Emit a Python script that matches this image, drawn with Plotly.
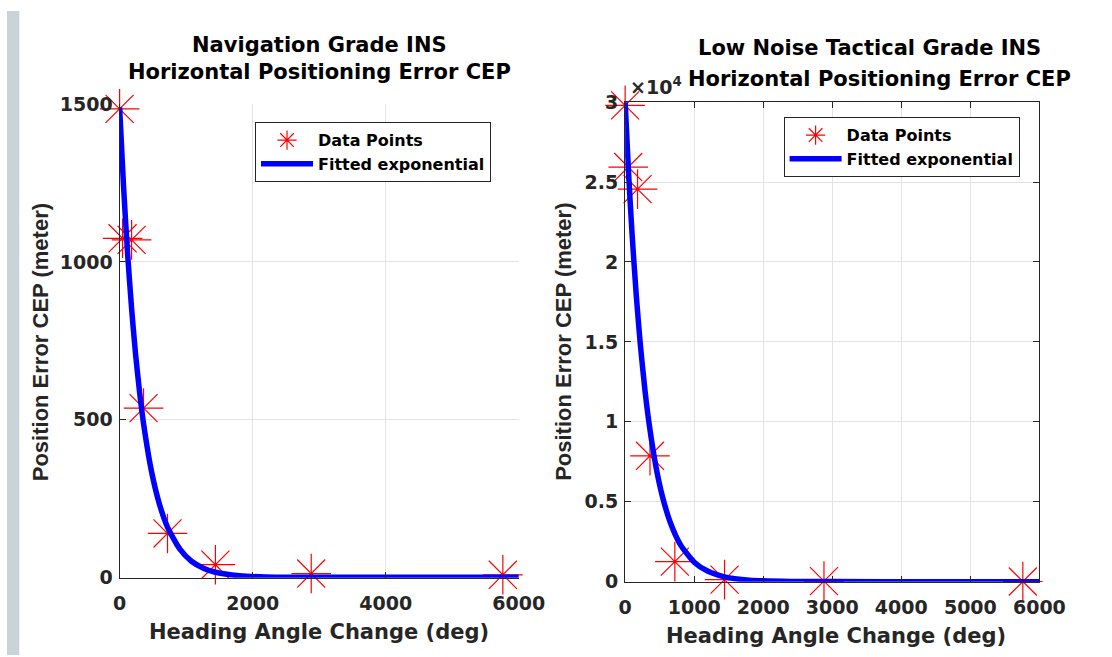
import plotly.graph_objects as go

# ---------------- data ----------------
heading_nav = [0, 45, 180, 360, 720, 1440, 2880, 5760]
cep_nav = [1485, 1075, 1070, 537, 140, 41, 13, 9]

fit_x_nav = [0, 60, 120, 180, 240, 300, 360, 480, 600, 720, 900, 1080, 1260, 1440, 1800, 2200, 3000, 4500, 6000]
fit_y_nav = [1490, 1237, 1027, 853, 708, 588, 488, 336, 232, 160, 92, 52, 30, 17, 6, 2, 1, 1, 1]

heading_tac = [0, 45, 180, 360, 720, 1440, 2880, 5760]
cep_tac = [29800, 25940, 24560, 7875, 1250, 125, 30, 10]

fit_x_tac = [0, 50, 100, 160, 220, 290, 350, 450, 540, 650, 800, 1000, 1200, 1440, 1800, 2400, 3000, 4500, 6000]
fit_y_tac = [30000, 25560, 21790, 17980, 14840, 11860, 9790, 7110, 5330, 3750, 2320, 1220, 645, 300, 95, 14, 2, 0, 0]

nav_xticks = [0, 2000, 4000, 6000]
nav_yticks = [0, 500, 1000, 1500]
tac_xticks = [0, 1000, 2000, 3000, 4000, 5000, 6000]
tac_tickvals = [0, 5000, 10000, 15000, 20000, 25000, 30000]
tac_ticktext = ["0", "0.5", "1", "1.5", "2", "2.5", "3"]

# the page is photographed with an 8px body margin and a slight down-scaling;
# positions below are given in picture pixels and converted to figure pixels
S = 0.968
OFF = 8
DY = 3
W, H = 1136, 666
FONT = "DejaVu Sans"
FONT_V = "Liberation Sans"
AX = "#262626"
GRID = "#e3e3e3"


def px(x):
    return (x / S - OFF) / W


def py(y):
    return 1 - ((y - DY) / S - OFF) / H


fig = go.Figure()

star = dict(symbol="asterisk-open", size=33, color="red", line=dict(color="red", width=1.2))

fig.add_trace(go.Scatter(x=heading_nav, y=cep_nav, mode="markers", name="Data Points",
                         marker=star, xaxis="x", yaxis="y", legend="legend",
                         cliponaxis=False))
fig.add_trace(go.Scatter(x=fit_x_nav, y=fit_y_nav, mode="lines", name="Fitted exponential",
                         line=dict(color="#0000ff", width=5.5, shape="spline", smoothing=0.6),
                         xaxis="x", yaxis="y", legend="legend"))
fig.add_trace(go.Scatter(x=heading_tac, y=cep_tac, mode="markers", name="Data Points",
                         marker=star, xaxis="x2", yaxis="y2", legend="legend2",
                         cliponaxis=False))
fig.add_trace(go.Scatter(x=fit_x_tac, y=fit_y_tac, mode="lines", name="Fitted exponential",
                         line=dict(color="#0000ff", width=5.5, shape="spline", smoothing=0.6),
                         xaxis="x2", yaxis="y2", legend="legend2"))

tickfont = dict(family=FONT, size=19, color=AX, weight="bold")

axis_common = dict(showgrid=True, gridcolor=GRID, gridwidth=1, zeroline=False,
                   showline=True, linecolor=AX, linewidth=1.2,
                   ticks="inside", ticklen=6, tickcolor=AX, tickwidth=1,
                   tickfont=tickfont)

legend_common = dict(xanchor="left", yanchor="top", bgcolor="white", bordercolor=AX,
                     borderwidth=1, font=dict(family=FONT, size=16, color="black", weight="bold"),
                     itemwidth=52, tracegroupgap=0)

fig.update_layout(
    width=W, height=H,
    margin=dict(l=0, r=0, t=0, b=0),
    paper_bgcolor="white", plot_bgcolor="white",
    font=dict(family=FONT, color=AX),
    xaxis=dict(domain=[px(120), px(518)], range=[0, 6000], tickvals=nav_xticks,
               anchor="y", mirror=False, ticklabelstandoff=8, **axis_common),
    yaxis=dict(domain=[py(578), py(104)], range=[0, 1500], tickvals=nav_yticks,
               anchor="x", mirror=False, ticklabelstandoff=2, **axis_common),
    xaxis2=dict(domain=[px(624), px(1037)], range=[0, 6000], tickvals=tac_xticks,
                anchor="y2", mirror="ticks", ticklabelstandoff=8, **axis_common),
    yaxis2=dict(domain=[py(582), py(102)], range=[0, 30000], tickvals=tac_tickvals,
                ticktext=tac_ticktext, anchor="x2", mirror="ticks", ticklabelstandoff=2,
                **axis_common),
    showlegend=True,
    legend=dict(x=px(255), y=py(122), **legend_common),
    legend2=dict(x=px(782), y=py(117), **legend_common),
)

# grey strip of the surrounding window on the left
fig.add_shape(type="rect", xref="paper", yref="paper", x0=0, x1=px(20), y0=0, y1=1,
              fillcolor="#c9d4da", line_width=0, layer="below")


def ann(text, x, y, size=21, angle=0, color="black", xanchor="center", family=FONT):
    fig.add_annotation(text=text, x=px(x), y=py(y), xref="paper", yref="paper",
                       showarrow=False, textangle=angle, xanchor=xanchor, yanchor="middle",
                       font=dict(family=family, size=size, color=color, weight="bold"))


# titles
ann("Navigation Grade INS", 319, 45)
ann("Horizontal Positioning Error CEP", 319, 72)
ann("Low Noise Tactical Grade INS", 868, 48)
ann("Horizontal Positioning Error CEP", 878, 79)
# axis titles
ann("Heading Angle Change (deg)", 319, 632, color=AX)
ann("Heading Angle Change (deg)", 834, 636, color=AX)
ann("Position Error CEP (meter)", 42, 342, size=22, angle=-90, color=AX, family=FONT_V)
ann("Position Error CEP (meter)", 563, 342, size=22, angle=-90, color=AX, family=FONT_V)
# exponent label
ann("×10<sup>4</sup>", 627, 86, size=19, color=AX, xanchor="left")

fig.write_html("out.html")
